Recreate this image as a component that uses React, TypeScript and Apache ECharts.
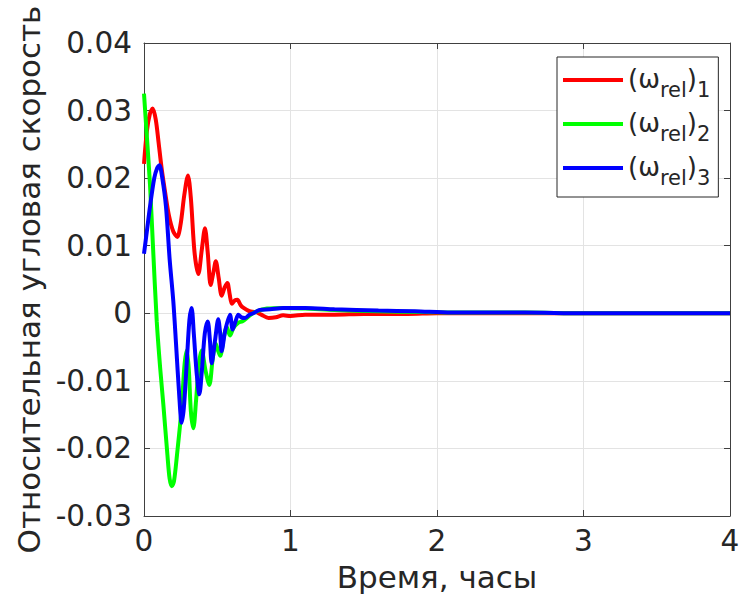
import React, { useEffect, useRef } from "react";
import * as echarts from "echarts";

// Time (hours) and relative angular velocity for each component
const redTime = [0, 0.02, 0.04, 0.059, 0.08, 0.1, 0.12, 0.145, 0.17, 0.2, 0.227, 0.25, 0.275, 0.3, 0.32, 0.345, 0.371, 0.395, 0.416, 0.435, 0.455, 0.475, 0.49, 0.51, 0.53, 0.55, 0.569, 0.585, 0.6, 0.62, 0.637, 0.66, 0.68, 0.72, 0.76, 0.8, 0.85, 0.9, 0.95, 1.0, 1.1, 1.3, 1.5, 1.8, 2.0, 2.5, 3.0, 3.5, 4.0];
const redValues = [0.0221, 0.027, 0.0295, 0.0303, 0.0287, 0.0252, 0.0215, 0.0178, 0.0145, 0.0121, 0.0113, 0.0132, 0.0175, 0.0204, 0.017, 0.009, 0.0058, 0.0095, 0.0126, 0.009, 0.0042, 0.0062, 0.0077, 0.0052, 0.0026, 0.0038, 0.0045, 0.0028, 0.0014, 0.0019, 0.002, 0.0012, 0.0008, 0.0003, 0.0002, -0.0002, -0.0007, -0.0006, -0.0003, -0.0004, -0.0002, -0.0002, -0.0001, -0.0001, 0, 0, 0, 0, 0];

const greenTime = [0, 0.02, 0.041, 0.06, 0.087, 0.11, 0.132, 0.16, 0.175, 0.19, 0.205, 0.225, 0.257, 0.275, 0.29, 0.305, 0.32, 0.337, 0.355, 0.375, 0.394, 0.42, 0.446, 0.47, 0.49, 0.505, 0.52, 0.545, 0.564, 0.587, 0.61, 0.644, 0.67, 0.69, 0.73, 0.77, 0.84, 0.95, 1.1, 1.3, 1.6, 1.9, 2.2, 2.6, 3.0, 4.0];
const greenValues = [0.0325, 0.026, 0.019, 0.0105, -0.0012, -0.008, -0.0135, -0.021, -0.0245, -0.0256, -0.0248, -0.021, -0.014, -0.008, -0.0055, -0.008, -0.0145, -0.017, -0.013, -0.0075, -0.0055, -0.0085, -0.0106, -0.0065, -0.0045, -0.0055, -0.0063, -0.0035, -0.002, -0.0033, -0.0022, -0.0014, -0.0012, -0.0009, -0.0002, 0.0003, 0.0007, 0.0008, 0.0007, 0.0005, 0.0003, 0.0002, 0.0001, 0.0001, 0, 0];

const blueTime = [0, 0.02, 0.041, 0.07, 0.09, 0.105, 0.125, 0.15, 0.175, 0.2, 0.22, 0.24, 0.257, 0.272, 0.29, 0.31, 0.325, 0.34, 0.36, 0.378, 0.395, 0.415, 0.435, 0.45, 0.462, 0.485, 0.507, 0.52, 0.53, 0.555, 0.587, 0.605, 0.625, 0.644, 0.665, 0.69, 0.72, 0.746, 0.79, 0.86, 0.95, 1.1, 1.3, 1.6, 1.85, 2.1, 2.6, 3.0, 4.0];
const blueValues = [0.0088, 0.0122, 0.0158, 0.02, 0.0215, 0.0219, 0.02, 0.0158, 0.008, 0.0018, -0.005, -0.012, -0.0162, -0.014, -0.008, -0.001, 0.0008, -0.003, -0.009, -0.012, -0.0085, -0.003, -0.0012, -0.004, -0.0074, -0.004, -0.0009, -0.003, -0.0056, -0.0025, -0.0002, -0.0024, -0.0012, -0.0002, -0.0006, -0.0007, -0.0002, 0, 0.0005, 0.0006, 0.0008, 0.0008, 0.0006, 0.0004, 0.0003, 0.0001, 0.0001, 0, 0];

const seriesNames = ["(ωrel)1", "(ωrel)2", "(ωrel)3"];
const seriesColors = ["#ff0000", "#00ff00", "#0000ff"];
const xTicks = { min: 0, max: 4, interval: 1 };
const yTicks = { min: -0.03, max: 0.04, interval: 0.01 };
const xName = "Время, часы";
const yName = "Относительная угловая скорость";

const FONT = "DejaVu Sans";
const TXT = "#262626";
const AXC = "#404040";

function zip(t: number[], v: number[]) {
  return t.map((x, i) => [x, v[i]]);
}

export default function App() {
  const ref = useRef<HTMLDivElement>(null);
  useEffect(() => {
    if (!ref.current) return;
    const chart = echarts.init(ref.current, undefined, { renderer: "svg" });
    const datasets = [zip(redTime, redValues), zip(greenTime, greenValues), zip(blueTime, blueValues)];
    const axisBase = {
      axisLine: { show: true, onZero: false, lineStyle: { color: AXC, width: 1 } },
      axisTick: { show: true, inside: true, length: 6, lineStyle: { color: AXC } },
    };
    chart.setOption({
      animation: false,
      backgroundColor: "#ffffff",
      grid: { left: 144, right: 15, top: 43, bottom: 82, containLabel: false },
      xAxis: [
        {
          type: "value",
          ...xTicks,
          ...axisBase,
          axisLabel: { color: TXT, fontFamily: FONT, fontSize: 29.5, margin: 10 },
          splitLine: { show: true, lineStyle: { color: "#e3e3e3", width: 1 } },
          name: xName,
          nameLocation: "middle",
          nameGap: 45,
          nameTextStyle: { color: TXT, fontFamily: FONT, fontSize: 31 },
        },
        {
          type: "value",
          position: "top",
          ...xTicks,
          ...axisBase,
          axisLabel: { show: false },
          splitLine: { show: false },
        },
      ],
      yAxis: [
        {
          type: "value",
          ...yTicks,
          ...axisBase,
          axisLabel: {
            color: TXT,
            fontFamily: FONT,
            fontSize: 29.5,
            margin: 12,
            formatter: (v: number) => (Math.abs(v) < 1e-9 ? "0" : v.toFixed(2)),
          },
          splitLine: { show: true, lineStyle: { color: "#e3e3e3", width: 1 } },
          name: yName,
          nameLocation: "middle",
          nameGap: 97,
          nameRotate: 90,
          nameTextStyle: { color: TXT, fontFamily: FONT, fontSize: 31 },
        },
        {
          type: "value",
          position: "right",
          ...yTicks,
          ...axisBase,
          axisLabel: { show: false },
          splitLine: { show: false },
        },
      ],
      legend: {
        left: 557,
        top: 57,
        orient: "vertical",
        icon: "rect",
        itemWidth: 60,
        itemHeight: 4,
        itemGap: 10,
        padding: [9, 8, 9, 6],
        borderColor: "#262626",
        borderWidth: 1,
        backgroundColor: "#ffffff",
        data: seriesNames,
        formatter: (name: string) => {
          const idx = name.slice(-1);
          return `{p|(ω}{s|rel}{p|)}{s|${idx}}`;
        },
        textStyle: {
          color: TXT,
          fontFamily: FONT,
          rich: {
            p: { fontSize: 26, lineHeight: 28, verticalAlign: "top", fontFamily: FONT, color: TXT },
            s: { fontSize: 21, lineHeight: 21, verticalAlign: "top", padding: [13, 0, 0, 0], fontFamily: FONT, color: TXT },
          },
        },
      },
      series: datasets.map((d, i) => ({
        name: seriesNames[i],
        type: "line",
        data: d,
        xAxisIndex: 0,
        yAxisIndex: 0,
        showSymbol: false,
        smooth: 0.3,
        color: seriesColors[i],
        lineStyle: { color: seriesColors[i], width: 4 },
        z: 2 + i,
      })),
    });
    return () => chart.dispose();
  }, []);
  return (
    <div
      ref={ref}
      style={{ position: "absolute", left: 0, top: 0, width: 745, height: 598 }}
    />
  );
}
